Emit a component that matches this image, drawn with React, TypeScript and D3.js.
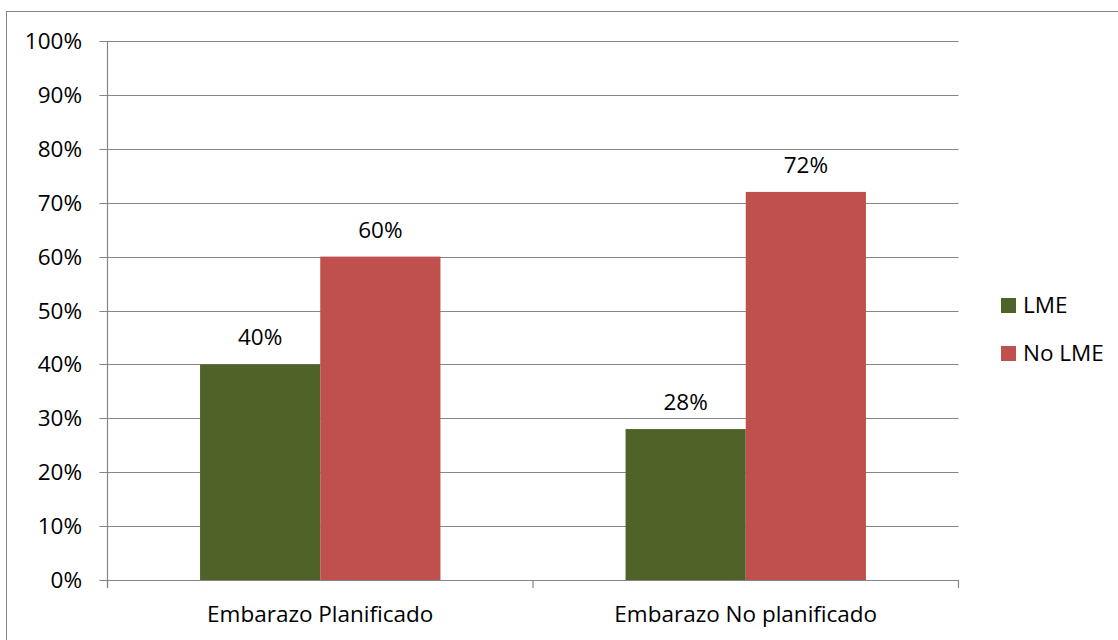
import React from "react";
import * as d3 from "d3";

const categories = ["Embarazo Planificado", "Embarazo No planificado"];
const seriesNames = ["LME", "No LME"];
const lmeValues = [40, 28];
const noLmeValues = [60, 72];
const yTicks = [0, 10, 20, 30, 40, 50, 60, 70, 80, 90, 100];
const colors = ["#4F6228", "#C0504D"];

const W = 1118;
const H = 640;
const left = 107.5;
const right = 958.5;
const top = 41;
const bottom = 580;
const font = "'Open Sans', Lato, sans-serif";
const fs = 22.5;

export default function App() {
  const x = d3.scaleBand<string>().domain(categories).range([left, right]);
  const inner = d3
    .scaleBand<string>()
    .domain(seriesNames)
    .range([0, x.bandwidth()])
    .paddingOuter(0.77)
    .paddingInner(0);
  const y = d3.scaleLinear().domain([0, 100]).range([bottom, top]);
  const series = [lmeValues, noLmeValues];
  const grid = "#868686";

  return (
    <svg
      width={W}
      height={H}
      style={{ position: "absolute", left: 0, top: 0, background: "#fff" }}
      fontFamily={font}
    >
      <rect x={6.5} y={11.5} width={W} height={H} fill="none" stroke={grid} strokeWidth={1} />
      {yTicks.map((t) => (
        <g key={t}>
          <line x1={left - 8} x2={right} y1={Math.round(y(t)) + 0.5} y2={Math.round(y(t)) + 0.5} stroke={grid} strokeWidth={1.2} />
          <text x={82} y={y(t) + 8} textAnchor="end" fontSize={fs} fill="#000">
            {t}%
          </text>
        </g>
      ))}
      <line x1={left} x2={left} y1={top} y2={bottom + 8} stroke={grid} strokeWidth={1.2} />
      {[...categories.map((c) => x(c) as number), right].map((px, i) => (
        <line key={i} x1={px} x2={px} y1={bottom} y2={bottom + 8} stroke={grid} strokeWidth={1.2} />
      ))}
      {categories.map((c, ci) => (
        <g key={c}>
          {seriesNames.map((s, si) => {
            const v = series[si][ci];
            const bx = (x(c) as number) + (inner(s) as number);
            return (
              <g key={s}>
                <rect x={bx} y={y(v)} width={inner.bandwidth()} height={bottom - y(v)} fill={colors[si]} />
                <text x={bx + inner.bandwidth() / 2} y={y(v) - 19} textAnchor="middle" fontSize={fs} fill="#000">
                  {v}%
                </text>
              </g>
            );
          })}
          <text x={(x(c) as number) + x.bandwidth() / 2} y={622} textAnchor="middle" fontSize={fs} fill="#000">
            {c}
          </text>
        </g>
      ))}
      {seriesNames.map((s, si) => (
        <g key={s}>
          <rect x={1001} y={298 + si * 48} width={15} height={15} fill={colors[si]} />
          <text x={1023} y={313 + si * 48} fontSize={fs} fill="#000">
            {s}
          </text>
        </g>
      ))}
    </svg>
  );
}
